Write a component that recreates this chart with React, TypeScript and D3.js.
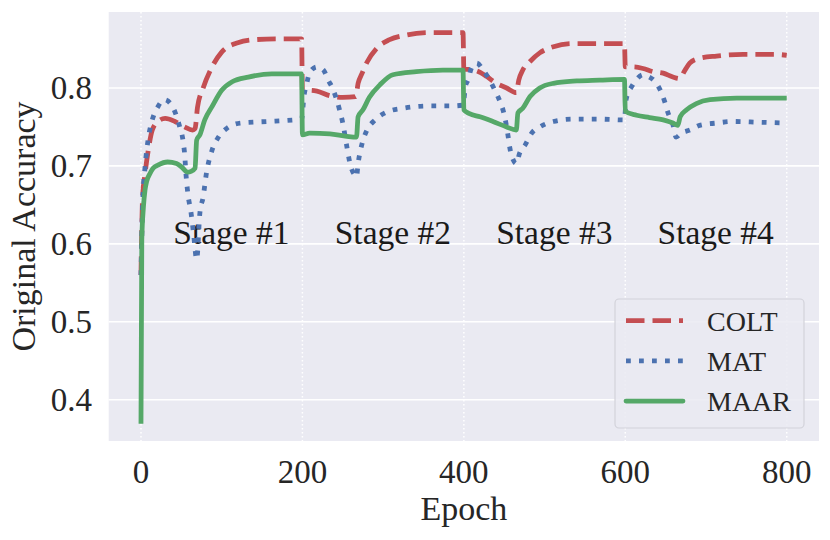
import * as d3 from "d3";

// axis ticks and annotations
const epochTicks = [0, 200, 400, 600, 800];
const accTicks = [0.4, 0.5, 0.6, 0.7, 0.8];
const stageLabels = ["Stage #1", "Stage #2", "Stage #3", "Stage #4"];
const stageStartEpoch = [40, 240, 440, 640];
const stageLabelAcc = 0.6;

// [epoch, accuracy]
const colt: [number, number][] = [
  [0, 0.56], [2, 0.66], [5, 0.69], [9, 0.72], [14, 0.746], [21, 0.757], [30, 0.761],
  [42, 0.757], [54, 0.75], [64, 0.746], [67, 0.748], [70, 0.775], [77, 0.8], [88, 0.827],
  [100, 0.846], [120, 0.858], [141, 0.862], [170, 0.863], [199, 0.863],
  [200, 0.796], [209, 0.797], [218, 0.796], [234, 0.79], [250, 0.788], [266, 0.789],
  [269, 0.806], [274, 0.819], [280, 0.833], [292, 0.851], [308, 0.862], [329, 0.868],
  [358, 0.871], [399, 0.871],
  [400, 0.824], [407, 0.824], [416, 0.822], [428, 0.815], [440, 0.806], [453, 0.8],
  [465, 0.794], [468, 0.81], [473, 0.823], [482, 0.834], [494, 0.845], [511, 0.853],
  [535, 0.857], [568, 0.857], [599, 0.857],
  [600, 0.827], [610, 0.827], [622, 0.825], [634, 0.821], [647, 0.819], [659, 0.814],
  [667, 0.812], [674, 0.823], [680, 0.832], [692, 0.838], [713, 0.841], [746, 0.843],
  [787, 0.843], [800, 0.842],
];

const mat: [number, number][] = [
  [0, 0.56], [2, 0.65], [5, 0.698], [9, 0.735], [14, 0.759], [21, 0.776], [29, 0.785],
  [38, 0.778], [48, 0.75], [52, 0.733], [54, 0.716], [56, 0.686], [58, 0.665], [62, 0.64],
  [65, 0.614], [69, 0.58], [73, 0.64], [77, 0.66], [81, 0.69], [88, 0.72], [96, 0.737],
  [106, 0.748], [123, 0.755], [156, 0.757], [189, 0.759], [199, 0.76],
  [202, 0.79], [205, 0.804], [209, 0.82], [218, 0.827], [226, 0.823], [232, 0.81],
  [238, 0.798], [246, 0.772], [250, 0.755], [255, 0.725], [259, 0.703], [265, 0.688],
  [267, 0.686], [269, 0.703], [274, 0.729], [280, 0.746], [290, 0.759], [304, 0.769],
  [325, 0.774], [358, 0.777], [386, 0.777], [399, 0.778],
  [402, 0.802], [405, 0.81], [410, 0.827], [416, 0.832], [424, 0.823], [432, 0.81],
  [438, 0.798], [445, 0.782], [449, 0.77], [453, 0.75], [455, 0.737], [457, 0.723],
  [461, 0.708], [465, 0.703], [469, 0.716], [476, 0.727], [484, 0.742], [494, 0.75],
  [511, 0.757], [535, 0.76], [568, 0.76], [599, 0.759],
  [601, 0.785], [608, 0.802], [614, 0.811], [622, 0.817], [628, 0.815], [637, 0.808],
  [643, 0.798], [649, 0.782], [653, 0.768], [659, 0.753], [663, 0.737], [669, 0.742],
  [680, 0.746], [692, 0.752], [713, 0.755], [733, 0.757], [767, 0.756], [800, 0.755],
];

const maar: [number, number][] = [
  [0, 0.369], [1, 0.605], [3, 0.647], [5, 0.669], [7, 0.68], [11, 0.69], [15, 0.697],
  [21, 0.701], [33, 0.705], [44, 0.703], [50, 0.699], [58, 0.692], [62, 0.693], [67, 0.697],
  [69, 0.733], [73, 0.74], [79, 0.759], [88, 0.776], [100, 0.797], [113, 0.808],
  [133, 0.814], [162, 0.818], [199, 0.818],
  [200, 0.74], [209, 0.742], [234, 0.741], [255, 0.738], [267, 0.737], [269, 0.763],
  [275, 0.772], [283, 0.788], [296, 0.804], [312, 0.817], [341, 0.821], [374, 0.823],
  [399, 0.823],
  [400, 0.772], [407, 0.767], [420, 0.763], [436, 0.757], [453, 0.75], [465, 0.746],
  [467, 0.768], [473, 0.774], [482, 0.789], [494, 0.8], [511, 0.806], [540, 0.809],
  [568, 0.81], [599, 0.811],
  [600, 0.77], [614, 0.765], [630, 0.762], [647, 0.759], [659, 0.755], [665, 0.752],
  [668, 0.763], [676, 0.772], [688, 0.78], [705, 0.785], [738, 0.787], [800, 0.787],
];

const series = [
  { name: "COLT", data: colt, color: "#C44E52", dash: "18.5 8" },
  { name: "MAT", data: mat, color: "#4C72B0", dash: "4.8 8.2" },
  { name: "MAAR", data: maar, color: "#55A868", dash: undefined as string | undefined },
];

const W = 830;
const H = 540;
const plot = { left: 108.7, right: 819, top: 12, bottom: 441 };
const FONT = "'Liberation Serif', 'Times New Roman', serif";
const INK = "#262626";
const LW = 4.8;

export default function App() {
  const x = d3.scaleLinear().domain([-40, 840]).range([plot.left, plot.right]);
  const y = d3.scaleLinear().domain([0.347, 0.8975]).range([plot.bottom, plot.top]);

  const line = d3
    .line<[number, number]>()
    .x((d) => x(d[0]))
    .y((d) => y(d[1]))
    .curve(d3.curveMonotoneX);

  const legend = { x: 615, y: 299, w: 189, h: 129 };

  return (
    <svg
      width={W}
      height={H}
      style={{ position: "absolute", left: 0, top: 0, background: "#fff" }}
      fontFamily={FONT}
    >
      <defs>
        <clipPath id="plot-clip">
          <rect
            x={plot.left}
            y={plot.top}
            width={plot.right - plot.left}
            height={plot.bottom - plot.top}
          />
        </clipPath>
      </defs>

      <rect
        x={plot.left}
        y={plot.top}
        width={plot.right - plot.left}
        height={plot.bottom - plot.top}
        fill="#EAEAF2"
      />

      {/* grid */}
      {accTicks.map((t) => (
        <line
          key={"h" + t}
          x1={plot.left}
          x2={plot.right}
          y1={y(t)}
          y2={y(t)}
          stroke="#fff"
          strokeWidth={1.6}
        />
      ))}
      {epochTicks.map((t) => (
        <line
          key={"v" + t}
          x1={x(t)}
          x2={x(t)}
          y1={plot.top}
          y2={plot.bottom}
          stroke="#fff"
          strokeWidth={1.5}
          strokeDasharray="1.5 2.5"
        />
      ))}

      {/* stage annotations */}
      {stageLabels.map((s, i) => (
        <text
          key={s}
          x={x(stageStartEpoch[i])}
          y={y(stageLabelAcc)}
          fontSize={33.5}
          fill="#1a1a1a"
        >
          {s}
        </text>
      ))}

      {/* curves */}
      <g clipPath="url(#plot-clip)">
        {series.map((s) => (
          <path
            key={s.name}
            d={line(s.data) ?? ""}
            fill="none"
            stroke={s.color}
            strokeWidth={LW}
            strokeDasharray={s.dash}
            strokeLinecap="butt"
            strokeLinejoin="round"
          />
        ))}
      </g>

      {/* tick labels */}
      {epochTicks.map((t) => (
        <text key={"xt" + t} x={x(t)} y={483} textAnchor="middle" fontSize={33} fill={INK}>
          {t}
        </text>
      ))}
      {accTicks.map((t) => (
        <text key={"yt" + t} x={92} y={y(t) + 11.5} textAnchor="end" fontSize={33} fill={INK}>
          {t.toFixed(1)}
        </text>
      ))}

      {/* axis titles */}
      <text
        x={(plot.left + plot.right) / 2}
        y={520}
        textAnchor="middle"
        fontSize={34}
        fill={INK}
      >
        Epoch
      </text>
      <text
        transform={`translate(35,${(plot.top + plot.bottom) / 2}) rotate(-90)`}
        textAnchor="middle"
        fontSize={34}
        fill={INK}
      >
        Original Accuracy
      </text>

      {/* legend */}
      <rect
        x={legend.x}
        y={legend.y}
        width={legend.w}
        height={legend.h}
        rx={4}
        fill="#EAEAF2"
        fillOpacity={0.85}
        stroke="#D2D2DA"
        strokeWidth={1.2}
      />
      {series.map((s, i) => {
        const cy = 320.7 + i * 40.2;
        return (
          <g key={"lg" + s.name}>
            <line
              x1={626}
              x2={683}
              y1={cy}
              y2={cy}
              stroke={s.color}
              strokeWidth={LW}
              strokeDasharray={s.dash}
              strokeLinecap={s.dash ? "butt" : "round"}
            />
            <text x={707} y={cy + 10} fontSize={28} fill={INK}>
              {s.name}
            </text>
          </g>
        );
      })}
    </svg>
  );
}
